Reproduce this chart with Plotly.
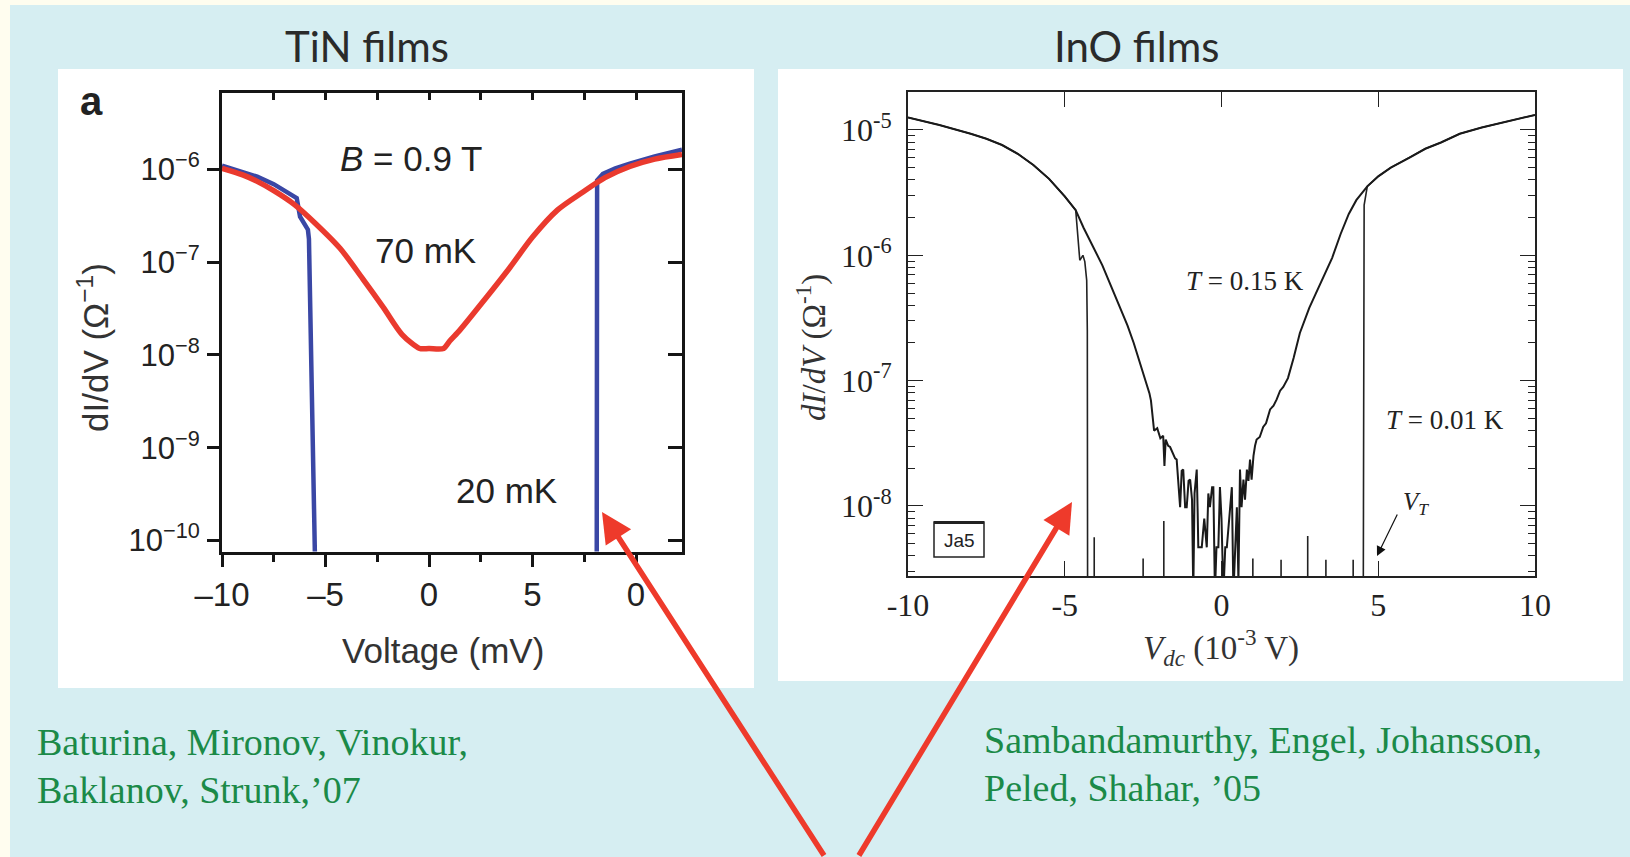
import plotly.graph_objects as go

# ---------------- data ----------------
# TiN films, B = 0.9 T  (x: Voltage in mV, values: log10 of dI/dV in 1/Ohm)
tin_70mK_v = [-10.0, -9.0, -8.3, -7.5, -6.5, -5.5, -4.3, -3.2, -2.2, -1.3, -0.45, 0.0,
              0.7, 1.0, 1.5, 2.7, 3.9, 5.0, 6.2, 7.4, 8.5, 9.7, 10.9, 12.22]
tin_70mK_log = [-5.99, -6.06, -6.13, -6.23, -6.38, -6.58, -6.85, -7.18, -7.49, -7.78, -7.93, -7.93,
                -7.93, -7.85, -7.73, -7.40, -7.06, -6.73, -6.44, -6.25, -6.09, -5.97, -5.89, -5.84]

tin_20mK_v = [-10.0, -9.0, -8.3, -7.5, -6.8, -6.39, -6.23, -5.85, -5.80, -5.5, 8.10,
              8.10, 8.12, 8.4, 9.0, 9.7, 10.9, 12.22]
tin_20mK_log = [-5.96, -6.03, -6.08, -6.16, -6.26, -6.31, -6.51, -6.65, -6.75, -10.3, -10.3,
                -10.3, -6.12, -6.05, -5.99, -5.94, -5.86, -5.79]

# InO films (x: V_dc in 1e-3 V, values: log10 of dI/dV in 1/Ohm)
ino_015K_v = [-10.0, -9.0, -8.0, -7.5, -7.0, -6.5, -6.0, -5.5, -5.0, -4.65, -4.4, -4.2, -4.0,
              -3.8, -3.6, -3.4, -3.2, -3.0, -2.8, -2.6, -2.45, -2.3, -2.25, -2.2, -2.15, -2.05,
              -1.95, -1.86, -1.82, -1.78, -1.70, -1.64, -1.55, -1.48, -1.43, -1.38, -1.32, -1.27,
              -1.22, -1.16, -1.11, -1.05, -1.0, -0.94, -0.90, -0.86, -0.79, -0.76, -0.74, -0.63,
              -0.55, -0.47, -0.42, -0.37, -0.30, -0.26, -0.21, -0.16, -0.10, -0.05, 0.0, 0.06,
              0.12, 0.17, 0.25, 0.33, 0.38, 0.44, 0.49, 0.54, 0.59, 0.64, 0.70, 0.75, 0.81, 0.86,
              0.91, 0.96, 1.02, 1.07, 1.12, 1.22, 1.33, 1.42, 1.55, 1.66, 1.76, 1.87, 1.97, 2.12,
              2.3, 2.5, 2.8, 3.0, 3.3, 3.53, 3.8, 4.06, 4.3, 4.65, 5.0, 5.4, 6.0, 6.5, 7.0, 7.6,
              8.3, 9.0, 10.0]
ino_015K_log = [-4.90, -4.96, -5.03, -5.07, -5.12, -5.19, -5.28, -5.39, -5.53, -5.64, -5.78, -5.88,
                -5.98, -6.08, -6.20, -6.32, -6.44, -6.56, -6.70, -6.86, -6.99, -7.10, -7.16, -7.30,
                -7.40, -7.38, -7.46, -7.44, -7.68, -7.47, -7.52, -7.53, -7.58, -7.62, -7.63, -7.80,
                -8.01, -7.72, -7.71, -8.01, -8.01, -7.80, -7.79, -7.95, -8.70, -7.90, -7.71, -8.05,
                -8.33, -8.33, -8.10, -8.33, -7.90, -8.01, -7.85, -7.85, -8.70, -8.33, -8.33, -7.85,
                -8.10, -8.70, -8.33, -8.33, -8.10, -7.85, -8.70, -8.33, -8.01, -8.60, -7.71, -8.01,
                -7.79, -7.95, -7.71, -7.80, -7.63, -7.79, -7.60, -7.52, -7.47, -7.45, -7.37, -7.34,
                -7.23, -7.20, -7.15, -7.08, -7.05, -6.98, -6.82, -6.62, -6.42, -6.31, -6.14, -6.02,
                -5.83, -5.67, -5.56, -5.45, -5.37, -5.30, -5.22, -5.15, -5.10, -5.03, -4.98, -4.94,
                -4.88]

ino_001K_v = [-10.0, -9.0, -8.0, -7.5, -7.0, -6.5, -6.0, -5.5, -5.0, -4.65, -4.52, -4.42, -4.36,
              -4.30, -4.28, -4.27, -4.06, -4.06, -4.06, -2.50, -2.50, -2.50, -1.84, -1.84, -1.84,
              1.00, 1.00, 1.00, 1.90, 1.90, 1.90, 2.75, 2.75, 2.75, 3.33, 3.33, 3.33, 4.20, 4.20,
              4.20, 4.52, 4.55, 4.65, 5.0, 5.4, 6.0, 6.5, 7.0, 7.6, 8.3, 9.0, 10.0]
ino_001K_log = [-4.90, -4.96, -5.03, -5.07, -5.12, -5.19, -5.28, -5.39, -5.53, -5.64, -6.04, -6.00,
                -6.05, -6.20, -6.60, -9.00, -9.00, -8.25, -9.00, -9.00, -8.42, -9.00, -9.00, -8.12,
                -9.00, -9.00, -8.42, -9.00, -9.00, -8.43, -9.00, -9.00, -8.24, -9.00, -9.00, -8.43,
                -9.00, -9.00, -8.43, -9.00, -9.00, -5.60, -5.45, -5.37, -5.30, -5.22, -5.15, -5.10,
                -5.03, -4.98, -4.94, -4.88]

tin_xticks = [-10, -5, 0, 5, 10]
tin_xticklabels = ["–10", "–5", "0", "5", "0"]
tin_yticks = [1e-10, 1e-9, 1e-8, 1e-7, 1e-6]
tin_yticklabels = ["10<sup>−10</sup>", "10<sup>−9</sup>", "10<sup>−8</sup>", "10<sup>−7</sup>", "10<sup>−6</sup>"]
ino_xticks = [-10, -5, 0, 5, 10]
ino_xticklabels = ["-10", "-5", "0", "5", "10"]
ino_yticks = [1e-8, 1e-7, 1e-6, 1e-5]
ino_yticklabels = ["10<sup>-8</sup>", "10<sup>-7</sup>", "10<sup>-6</sup>", "10<sup>-5</sup>"]

# ---------------- layout helpers ----------------
W, H = 1630, 857


def X(p):
    return p / W


def Y(p):
    return 1 - p / H


def pw(v):
    return [10 ** a for a in v]


SANS = "Liberation Sans, Arial, sans-serif"
SERIF = "Liberation Serif, Times New Roman, serif"
AX = "#151515"

fig = go.Figure()

# left panel traces
fig.add_trace(go.Scatter(x=tin_20mK_v, y=pw(tin_20mK_log), mode="lines",
                         line=dict(color="#3a47a5", width=4.5), xaxis="x", yaxis="y",
                         showlegend=False, hoverinfo="skip"))
fig.add_trace(go.Scatter(x=tin_70mK_v, y=pw(tin_70mK_log), mode="lines",
                         line=dict(color="#ea3a2e", width=5.5, shape="spline", smoothing=0.8),
                         xaxis="x", yaxis="y", showlegend=False, hoverinfo="skip"))
# dummy trace so the overlay axes are drawn
fig.add_trace(go.Scatter(x=[None], y=[None], xaxis="x3", yaxis="y3", showlegend=False, hoverinfo="skip"))

# right panel traces
fig.add_trace(go.Scatter(x=ino_001K_v, y=pw(ino_001K_log), mode="lines",
                         line=dict(color="#222222", width=1.6), xaxis="x2", yaxis="y2",
                         showlegend=False, hoverinfo="skip"))
fig.add_trace(go.Scatter(x=ino_015K_v, y=pw(ino_015K_log), mode="lines",
                         line=dict(color="#1a1a1a", width=2.0), xaxis="x2", yaxis="y2",
                         showlegend=False, hoverinfo="skip"))

tin_xrange = [-10, 12.22]
tin_yrange = [-10.117, -5.178]
ino_minor = [k * 10.0 ** e for e in range(-9, -4) for k in range(2, 10)]

fig.update_layout(
    width=W, height=H, margin=dict(l=0, r=0, t=0, b=0, pad=0, autoexpand=False),
    paper_bgcolor="#fffdef", plot_bgcolor="white",
    xaxis=dict(domain=[X(222), X(682)], range=tin_xrange, anchor="y", automargin=False,
               tickmode="array", tickvals=tin_xticks, ticktext=tin_xticklabels,
               ticks="outside", ticklen=12, tickwidth=3, tickcolor=AX,
               minor=dict(tickvals=[-7.5, -2.5, 2.5, 7.5], ticks="outside", ticklen=7,
                          tickwidth=3, tickcolor=AX),
               showline=True, linewidth=3, linecolor=AX, showgrid=False, zeroline=False,
               tickfont=dict(family=SANS, size=33, color="#222"), ticklabelstandoff=0),
    yaxis=dict(domain=[Y(551.5), Y(93)], type="log", range=tin_yrange, anchor="x", automargin=False,
               tickmode="array", tickvals=tin_yticks, ticktext=tin_yticklabels,
               ticks="outside", ticklen=12, tickwidth=3, tickcolor=AX,
               showline=True, linewidth=3, linecolor=AX, showgrid=False, zeroline=False,
               tickfont=dict(family=SANS, size=31, color="#222"), ticklabelstandoff=1),
    xaxis3=dict(overlaying="x", side="top", anchor="y", range=tin_xrange, automargin=False,
                tickmode="array", tickvals=[-10, -7.5, -5, -2.5, 0, 2.5, 5, 7.5, 10],
                ticks="inside", ticklen=7, tickwidth=3, tickcolor=AX,
                showticklabels=False, showline=True, linewidth=3, linecolor=AX,
                showgrid=False, zeroline=False),
    yaxis3=dict(overlaying="y", side="right", anchor="x", type="log", range=tin_yrange,
                automargin=False, tickmode="array", tickvals=tin_yticks,
                ticks="inside", ticklen=14, tickwidth=3, tickcolor=AX,
                showticklabels=False, showline=True, linewidth=3, linecolor=AX,
                showgrid=False, zeroline=False),
    xaxis2=dict(domain=[X(908), X(1535)], range=[-10, 10], anchor="y2", automargin=False,
                tickmode="array", tickvals=ino_xticks, ticktext=ino_xticklabels,
                ticks="inside", ticklen=15, tickwidth=1.3, tickcolor="#222", mirror="ticks",
                showline=True, linewidth=2, linecolor="#222", showgrid=False, zeroline=False,
                tickfont=dict(family=SERIF, size=32, color="#222"), ticklabelstandoff=0),
    yaxis2=dict(domain=[Y(576), Y(92)], type="log", range=[-8.559, -4.697], anchor="x2",
                automargin=False, tickmode="array", tickvals=ino_yticks, ticktext=ino_yticklabels,
                ticks="inside", ticklen=15, tickwidth=1.3, tickcolor="#222", mirror="ticks",
                minor=dict(tickvals=ino_minor, ticks="inside", ticklen=7, tickwidth=1.2,
                           tickcolor="#222"),
                showline=True, linewidth=2, linecolor="#222", showgrid=False, zeroline=False,
                tickfont=dict(family=SERIF, size=32, color="#222"), ticklabelstandoff=8),
)

# ---------------- background panels ----------------
shapes = [
    dict(type="rect", xref="paper", yref="paper", x0=X(10), x1=1, y0=0, y1=Y(5),
         fillcolor="#d6eef2", line=dict(width=0), layer="below"),
    dict(type="rect", xref="paper", yref="paper", x0=X(58), x1=X(754), y0=Y(688), y1=Y(69),
         fillcolor="white", line=dict(width=0), layer="below"),
    dict(type="rect", xref="paper", yref="paper", x0=X(778), x1=X(1623), y0=Y(681), y1=Y(69),
         fillcolor="white", line=dict(width=0), layer="below"),
    # "Ja5" label box
    dict(type="rect", xref="paper", yref="paper", x0=X(934), x1=X(984), y0=Y(557), y1=Y(522),
         fillcolor="rgba(0,0,0,0)", line=dict(width=1.5, color="#222")),
    dict(type="line", xref="paper", yref="paper", x0=X(934), x1=X(984), y0=Y(522.5), y1=Y(522.5),
         line=dict(width=3, color="#222")),
]
fig.update_layout(shapes=shapes)

GREEN = "#1b8a48"
ann = []


def text(x, y, s, family, size, color="#222", xanchor="center", angle=0):
    ann.append(dict(x=X(x), y=Y(y), xref="paper", yref="paper", text=s, showarrow=False,
                    xanchor=xanchor, yanchor="middle", textangle=angle,
                    font=dict(family=family, size=size, color=color)))


text(367, 46, "TiN films", "Lato, Open Sans, sans-serif", 42, "#2a2a2a")
text(1136, 46, "InO films", "Lato, Open Sans, sans-serif", 42, "#2a2a2a")

text(91, 101, "<b>a</b>", SANS, 40, "#222")
text(411, 158, "<i>B</i> = 0.9 T", SANS, 35, "#222")
text(425, 250, "70 mK", SANS, 35, "#222")
text(507, 490, "20 mK", SANS, 35, "#222")
text(443, 650, "Voltage (mV)", SANS, 35, "#333")
text(93, 348, "dI/dV (Ω<sup>−1</sup>)", SANS, 35, "#333", angle=-90)

text(1245, 281, "<i>T</i> = 0.15 K", SERIF, 27, "#222")
text(1445, 420, "<i>T</i> = 0.01 K", SERIF, 27, "#222")
text(959, 540, "Ja5", SANS, 19, "#222")
text(1416, 503, "<i>V</i><sub><i>T</i></sub>", SERIF, 25, "#222")
text(1221, 647, "<i>V</i><sub><i>dc</i></sub> (10<sup>-3</sup> V)", SERIF, 33, "#333")
text(811, 348, "<i>dI</i>/<i>dV</i> (Ω<sup>-1</sup>)", SERIF, 33, "#333", angle=-90)

text(35, 742, "Baturina, Mironov, Vinokur,", SERIF, 38, GREEN, xanchor="left")
text(35, 790, "Baklanov, Strunk,’07", SERIF, 38, GREEN, xanchor="left")
text(982, 740, "Sambandamurthy, Engel, Johansson,", SERIF, 38, GREEN, xanchor="left")
text(982, 788, "Peled, Shahar, ’05", SERIF, 38, GREEN, xanchor="left")

# arrows
RED = "#ee3a2b"
ann.append(dict(x=X(602), y=Y(512), xref="paper", yref="paper", ax=825 - 602, ay=857 - 512,
                showarrow=True, arrowhead=2, arrowsize=1.1, arrowwidth=5.5, arrowcolor=RED, text=""))
ann.append(dict(x=X(1072), y=Y(502), xref="paper", yref="paper", ax=858 - 1072, ay=857 - 502,
                showarrow=True, arrowhead=2, arrowsize=1.1, arrowwidth=5.5, arrowcolor=RED, text=""))
ann.append(dict(x=X(1377), y=Y(556), xref="paper", yref="paper", ax=1398 - 1377, ay=513 - 556,
                showarrow=True, arrowhead=2, arrowsize=1.6, arrowwidth=1.2, arrowcolor="#111", text=""))

fig.update_layout(annotations=ann)

fig.write_html("out.html", post_script="document.body.style.margin='0';document.body.style.overflow='hidden';",
               config={"displayModeBar": False})
